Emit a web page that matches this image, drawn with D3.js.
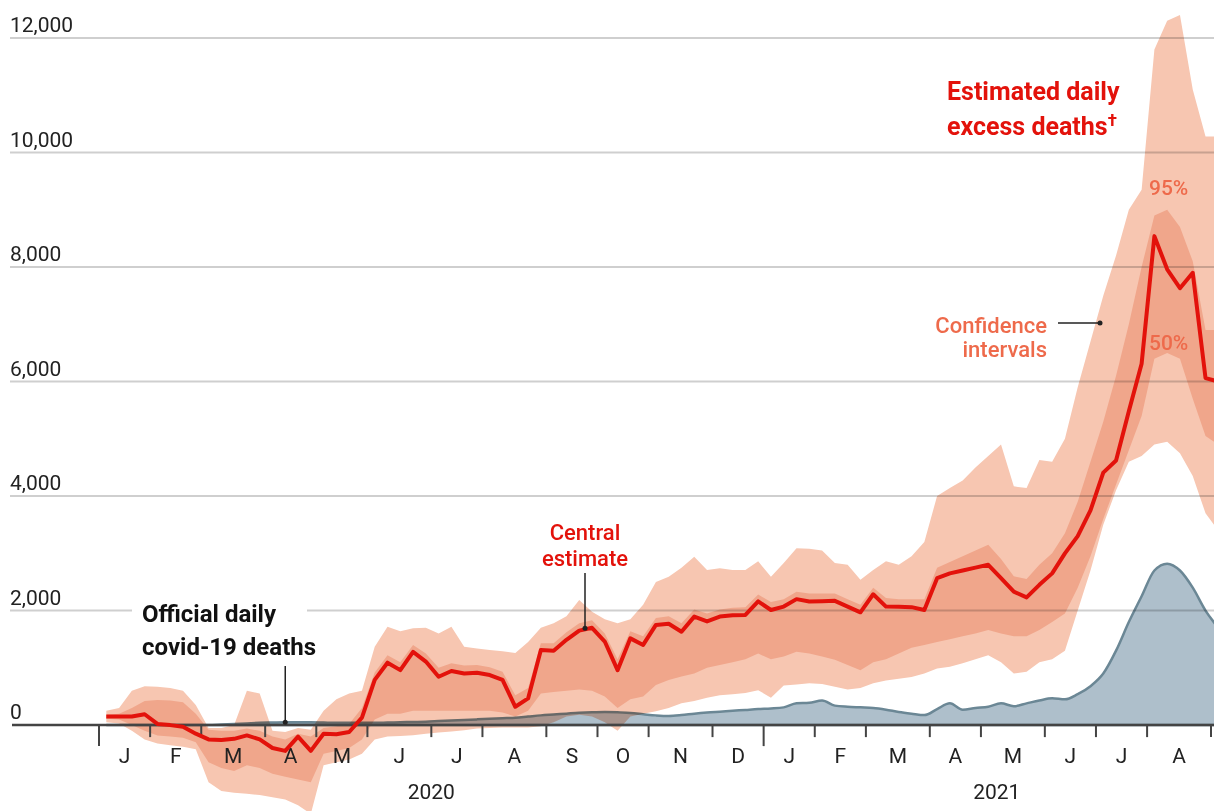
<!DOCTYPE html>
<html>
<head>
<meta charset="utf-8">
<title>Estimated daily excess deaths</title>
<script src="https://d3js.org/d3.v7.min.js"></script>
<style>
  body { margin: 0; background: #fff; }
  svg { display: block; font-family: Roboto, "Open Sans", sans-serif; }

  /* grid */
  .grid line { stroke: #cfcfcf; stroke-width: 2; mix-blend-mode: multiply; }
  .ylab { fill: #222; font-size: 21px; }

  /* bands + lines */
  .band95 { fill: #f7c6b1; }
  .band50 { fill: #f0a68b; }
  .official { fill: #aebfcb; stroke: #6b8795; stroke-width: 2.5; mix-blend-mode: multiply; }
  .central { fill: none; stroke: #e3120b; stroke-width: 4; stroke-linejoin: round; }

  /* x axis */
  .axisline { stroke: #444; stroke-width: 2.5; }
  .tick { stroke: #444; stroke-width: 2; }
  .mlab, .yrlab { fill: #222; font-size: 21px; text-anchor: middle; }

  /* notes */
  .note-red { fill: #e3120b; }
  .note-ci { fill: #ee6a4b; }
  .pointer { stroke: #222; stroke-width: 1.5; }
</style>
</head>
<body>
<div id="chart"></div>
<script>
// weekly data, first week ending Jan 4th 2020
var firstWeek = new Date(2020, 0, 4);

var central = [150, 150, 150, 190, 20, 0, -30, -150, -250, -260,
  -240, -180, -250, -400, -450, -200, -450, -150, -160, -120,
  130, 790, 1090, 960, 1280, 1110, 845, 945, 900, 915,
  875, 790, 320, 466, 1310, 1300, 1490, 1650, 1700, 1460,
  960, 1515, 1400, 1750, 1770, 1630, 1895, 1810, 1895, 1920,
  1925, 2160, 2010, 2070, 2200, 2160, 2165, 2170, 2070, 1970,
  2285, 2070, 2065, 2060, 2010, 2565, 2650, 2700, 2750, 2800,
  2565, 2330, 2230, 2450, 2650, 3000, 3300, 3750, 4410, 4620,
  5480, 6310, 8540, 7960, 7630, 7900, 6060, 6000];

var hi95 = [250, 300, 600, 680, 670, 650, 600, 350, -50, -50,
  0, 600, 550, -100, -120, -50, -80, 250, 450, 550,
  600, 1370, 1720, 1640, 1690, 1700, 1600, 1720, 1370, 1340,
  1310, 1290, 1260, 1450, 1700, 1780, 1900, 2185, 1980, 1850,
  1780, 1850, 2100, 2500, 2590, 2750, 2940, 2710, 2740, 2710,
  2710, 2860, 2590, 2830, 3090, 3080, 3050, 2830, 2800, 2540,
  2710, 2860, 2800, 2950, 3200, 4000, 4140, 4270, 4500, 4700,
  4900, 4170, 4140, 4630, 4600, 5000, 5900, 6700, 7500, 8200,
  9000, 9350, 11800, 12300, 12400, 11100, 10280, 10280];

var lo95 = [50, 30, -100, -250, -320, -350, -380, -420, -1000, -1150,
  -1180, -1200, -1220, -1260, -1300, -1400, -1550, -700, -650, -600,
  -500, -250, -200, -190, -175, -150, -130, -110, -90, -60,
  -50, -40, -40, -40, -20, 50, 150, 180, 150, 50,
  -100, 150, 200, 240, 300, 380, 420, 480, 520, 540,
  560, 610, 480, 690, 710, 730, 720, 670, 620, 650,
  730, 780, 810, 840, 900, 990, 1020, 1080, 1150, 1220,
  1100, 900, 930, 1100, 1150, 1300, 2000, 2700, 3500, 4100,
  4600, 4700, 4900, 4950, 4750, 4350, 3700, 3400];

var hi50 = [180, 200, 300, 420, 440, 430, 400, 200, -80, -100,
  -100, -60, -100, -200, -250, -150, -200, -50, -20, 20,
  300, 920, 1220, 1100, 1400, 1250, 1000, 1080, 1040, 1050,
  1010, 930, 520, 650, 1430, 1430, 1620, 1780, 1830, 1600,
  1150, 1640, 1550, 1870, 1900, 1780, 2020, 1950, 2020, 2050,
  2060, 2280, 2150, 2200, 2330, 2300, 2300, 2300, 2200, 2100,
  2400, 2220, 2200, 2200, 2200, 2750, 2850, 2950, 3050, 3150,
  2900, 2600, 2550, 2800, 3000, 3350, 3900, 4600, 5300, 6100,
  7000, 8000, 8900, 9000, 8700, 8100, 6900, 6900];

var lo50 = [110, 100, 0, -100, -180, -200, -220, -300, -650, -750,
  -800, -700, -750, -850, -900, -950, -1000, -500, -450, -400,
  -250, 100, 200, 200, 250, 250, 250, 250, 250, 250,
  250, 220, 150, 250, 550, 580, 600, 620, 600, 500,
  300, 450, 500, 700, 790, 850, 900, 1000, 1050, 1100,
  1150, 1250, 1150, 1200, 1280, 1250, 1200, 1140, 1050, 960,
  1100, 1150, 1250, 1350, 1400, 1450, 1500, 1550, 1600, 1660,
  1600, 1550, 1550, 1660, 1800, 1950, 2400, 2950, 3600, 4200,
  4800, 5400, 6400, 6500, 6400, 5700, 5050, 4900];

var official = [0, 0, 0, 0, 0, 0, 0, 0, 0, 10,
  20, 30, 40, 45, 50, 50, 50, 45, 40, 40,
  40, 40, 45, 50, 55, 60, 70, 80, 90, 100,
  110, 120, 130, 150, 170, 185, 200, 215, 225, 230,
  225, 210, 190, 170, 160, 175, 200, 220, 235, 250,
  265, 280, 290, 310, 380, 390, 430, 340, 320, 310,
  300, 270, 230, 200, 175, 280, 380, 270, 300, 320,
  380, 330, 380, 430, 470, 450, 540, 680, 900, 1300,
  1800, 2250, 2700, 2820, 2700, 2400, 2000, 1700];

var yTicks = [0, 2000, 4000, 6000, 8000, 10000, 12000];
var monthLabels = ["J", "F", "M", "A", "M", "J", "J", "A", "S", "O", "N", "D",
                   "J", "F", "M", "A", "M", "J", "J", "A"];
var yearLabels = ["2020", "2021"];

//------------------------------SVG------------------------------//
var width = 1214, height = 811;

var svg = d3.select("#chart").append("svg")
    .attr("width", width)
    .attr("height", height);

var weeks = central.map(function(d, i) { return d3.timeDay.offset(firstWeek, 7 * i); });
var rows = weeks.map(function(d, i) {
  return {date: d, c: central[i], h95: hi95[i], l95: lo95[i], h50: hi50[i], l50: lo50[i], off: official[i]};
});

//-----------------------------SCALES----------------------------//
var x = d3.scaleTime()
    .domain([new Date(2019, 11, 31), new Date(2021, 7, 31)])
    .range([99, 1211]);
var y = d3.scaleLinear()
    .domain([-1500, 12000])
    .range([811, 38]);

// ticks sit on the week that holds the 1st of each month
var months = d3.timeMonth.range(new Date(2020, 0, 1), new Date(2021, 8, 2));
var tickDates = months.map(function(m) { return d3.timeTuesday.floor(m); });

//-----------------------------BANDS-----------------------------//
var area95 = d3.area()
    .x(function(d) { return x(d.date); })
    .y0(function(d) { return y(d.l95); })
    .y1(function(d) { return y(d.h95); });
var area50 = d3.area()
    .x(function(d) { return x(d.date); })
    .y0(function(d) { return y(d.l50); })
    .y1(function(d) { return y(d.h50); });

svg.append("path").datum(rows).attr("class", "band95").attr("d", area95);
svg.append("path").datum(rows).attr("class", "band50").attr("d", area50);

//-----------------------------GRID------------------------------//
svg.append("g").attr("class", "grid")
  .selectAll("line")
  .data(yTicks.filter(function(d) { return d > 0; }))
  .join("line")
    .attr("x1", 10).attr("x2", width)
    .attr("y1", function(d) { return y(d); })
    .attr("y2", function(d) { return y(d); });

svg.append("g")
  .selectAll("text")
  .data(yTicks)
  .join("text")
    .attr("class", "ylab")
    .attr("x", 10)
    .attr("y", function(d) { return y(d) - 6; })
    .text(function(d) { return d3.format(",")(d); });

//---------------------------OFFICIAL----------------------------//
var offArea = d3.area()
    .x(function(d) { return x(d.date); })
    .y0(y(0))
    .y1(function(d) { return y(d.off); })
    .curve(d3.curveMonotoneX);
svg.append("path").datum(rows).attr("class", "official").attr("d", offArea);

//-----------------------------AXIS------------------------------//
svg.append("line").attr("class", "axisline")
    .attr("x1", 12).attr("x2", width)
    .attr("y1", y(0)).attr("y2", y(0));

svg.append("g")
  .selectAll("line")
  .data(tickDates)
  .join("line")
    .attr("class", "tick")
    .attr("x1", function(d) { return x(d); })
    .attr("x2", function(d) { return x(d); })
    .attr("y1", y(0))
    .attr("y2", function(d, i) { return months[i].getMonth() == 0 ? y(0) + 21 : y(0) + 12; });

svg.append("g")
  .selectAll("text")
  .data(monthLabels)
  .join("text")
    .attr("class", "mlab")
    .attr("x", function(d, i) { return (x(tickDates[i]) + x(tickDates[i + 1])) / 2; })
    .attr("y", 763)
    .text(function(d) { return d; });

var jan21 = x(tickDates[12]);
svg.append("text").attr("class", "yrlab")
    .attr("x", (x(tickDates[0]) + jan21) / 2).attr("y", 799).text(yearLabels[0]);
svg.append("text").attr("class", "yrlab")
    .attr("x", (jan21 + width + 16) / 2).attr("y", 799).text(yearLabels[1]);

//----------------------------CENTRAL----------------------------//
var line = d3.line()
    .x(function(d) { return x(d.date); })
    .y(function(d) { return y(d.c); });
svg.append("path").datum(rows).attr("class", "central").attr("d", line);

//-----------------------------NOTES-----------------------------//
// official deaths
var offNote = svg.append("g");
offNote.append("rect")
    .attr("x", 132).attr("y", 598).attr("width", 175).attr("height", 28)
    .attr("fill", "#fff");
offNote.append("text")
    .attr("x", 142).attr("y", 622)
    .style("font-size", "24px").style("font-weight", 700).attr("fill", "#111")
    .text("Official daily");
offNote.append("text")
    .attr("x", 142).attr("y", 655)
    .style("font-size", "24px").style("font-weight", 700).attr("fill", "#111")
    .text("covid-19 deaths");
offNote.append("line").attr("class", "pointer")
    .attr("x1", x(weeks[14])).attr("x2", x(weeks[14]))
    .attr("y1", 666).attr("y2", y(official[14]));
offNote.append("circle")
    .attr("cx", x(weeks[14])).attr("cy", y(official[14])).attr("r", 2.5).attr("fill", "#222");

// central estimate
svg.append("text").attr("class", "note-red")
    .attr("x", 585).attr("y", 540).attr("text-anchor", "middle")
    .style("font-size", "22px").style("font-weight", 500)
    .text("Central");
svg.append("text").attr("class", "note-red")
    .attr("x", 585).attr("y", 566).attr("text-anchor", "middle")
    .style("font-size", "22px").style("font-weight", 500)
    .text("estimate");
svg.append("line").attr("class", "pointer")
    .attr("x1", 585).attr("x2", 585)
    .attr("y1", 573).attr("y2", y(1690));
svg.append("circle").attr("cx", 585).attr("cy", y(1690)).attr("r", 2.5).attr("fill", "#222");

// title of excess series
svg.append("text").attr("class", "note-red")
    .attr("x", 947).attr("y", 100)
    .style("font-size", "25px").style("font-weight", 700)
    .text("Estimated daily");
var ex = svg.append("text").attr("class", "note-red")
    .attr("x", 947).attr("y", 135)
    .style("font-size", "25px").style("font-weight", 700);
ex.append("tspan").text("excess deaths");
ex.append("tspan").attr("dy", -9).style("font-size", "17px").text("\u2020");

// confidence intervals
svg.append("text").attr("class", "note-ci")
    .attr("x", 1047).attr("y", 333).attr("text-anchor", "end")
    .style("font-size", "22px").style("font-weight", 500)
    .text("Confidence");
svg.append("text").attr("class", "note-ci")
    .attr("x", 1047).attr("y", 357).attr("text-anchor", "end")
    .style("font-size", "22px").style("font-weight", 500)
    .text("intervals");
svg.append("line").attr("class", "pointer")
    .attr("x1", 1058).attr("x2", 1100).attr("y1", 323).attr("y2", 323);
svg.append("circle").attr("cx", 1100).attr("cy", 323).attr("r", 2.5).attr("fill", "#222");

svg.append("text").attr("class", "note-ci")
    .attr("x", 1149).attr("y", 195)
    .style("font-size", "21px").style("font-weight", 500)
    .text("95%");
svg.append("text").attr("class", "note-ci")
    .attr("x", 1149).attr("y", 350)
    .style("font-size", "21px").style("font-weight", 500)
    .text("50%");
</script>
</body>
</html>
